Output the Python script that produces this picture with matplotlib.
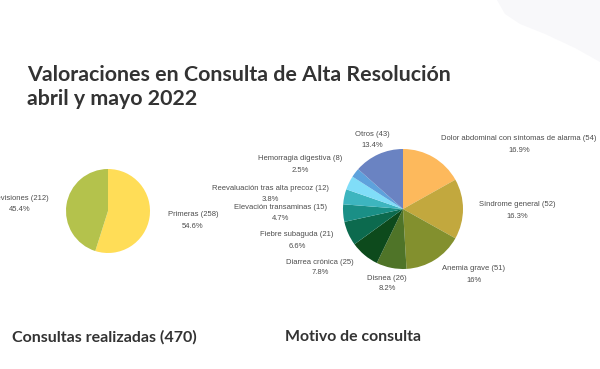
import matplotlib
matplotlib.use("Agg")
import matplotlib.pyplot as plt
from matplotlib.patches import Polygon

# Consultas realizadas
tipo_labels = ["Primeras", "Revisiones"]
tipo_values = [258, 212]
tipo_pcts = ["54.6%", "45.4%"]
tipo_colors = ["#FFDD57", "#B4C24C"]

# Motivo de consulta (one slice of 13 has no visible label)
motivo_labels = ["Dolor abdominal con síntomas de alarma", "Síndrome general", "Anemia grave",
                 "Disnea", "Diarrea crónica", "Fiebre subaguda", "Elevación transaminas",
                 "", "Reevaluación tras alta precoz", "Hemorragia digestiva", "Otros"]
motivo_values = [54, 52, 51, 26, 25, 21, 15, 13, 12, 8, 43]
motivo_pcts = ["16.9%", "16.3%", "16%", "8.2%", "7.8%", "6.6%", "4.7%", "", "3.8%", "2.5%", "13.4%"]
motivo_colors = ["#FDB95C", "#C2A83E", "#83902E", "#4F7428", "#0D4A1C", "#0C6A4E",
                 "#1A8F86", "#3DB5BF", "#80DDF8", "#5EA2DC", "#6A83C2"]

W, H = 600, 369
fig = plt.figure(figsize=(W / 100, H / 100), dpi=100)
fig.patch.set_facecolor("white")

def px(x, y):
    return x / W, 1 - y / H

# faint background shape top right
bg = Polygon([px(497, 0), px(505, 14), px(520, 24), px(545, 34), px(575, 48),
              px(600, 62), px(600, 0)], closed=True, transform=fig.transFigure,
             facecolor="#F8F8FA", edgecolor="none", zorder=0)
fig.patches.append(bg)

def pie_axes(cx, cy, r):
    ax = fig.add_axes([(cx - r) / W, 1 - (cy + r) / H, 2 * r / W, 2 * r / H])
    ax.set_axis_off()
    return ax

ax1 = pie_axes(108, 211, 42)
ax1.pie(tipo_values, colors=tipo_colors, startangle=90, counterclock=False,
        wedgeprops=dict(linewidth=0))
ax1.set_xlim(-1, 1)
ax1.set_ylim(-1, 1)

ax2 = pie_axes(403, 209, 60)
ax2.pie(motivo_values, colors=motivo_colors, startangle=90, counterclock=False,
        wedgeprops=dict(linewidth=0))
ax2.set_xlim(-1, 1)
ax2.set_ylim(-1, 1)

lab_font = dict(family="Liberation Sans", fontsize=5.5, color="#4d4d4d", ha="center", va="center")

# label anchor positions (pixels) for each slice
tipo_pos = [(193, 215), (20, 198)]
for name, v, p, (x, y) in zip(tipo_labels, tipo_values, tipo_pcts, tipo_pos):
    fig.text(*px(x, y), f"{name} ({v})", **lab_font)
    fig.text(*px(x, y + 11.5), p, **lab_font)

motivo_pos = [(519, 139), (517, 205), (474, 269), (387, 278), (320, 262), (297, 235),
              (281, 208), None, (270, 188), (300, 159), (372, 135)]
for name, v, p, pos in zip(motivo_labels, motivo_values, motivo_pcts, motivo_pos):
    if pos is None:
        continue
    x, y = pos
    fig.text(*px(x, y), f"{name} ({v})", **lab_font)
    fig.text(*px(x, y + 11), p, **lab_font)

title_font = dict(family="Lato", fontweight="bold", color="#333333")
fig.text(*px(27, 75), "Valoraciones en Consulta de Alta Resolución", fontsize=15.4,
         va="center", ha="left", **title_font)
fig.text(*px(27, 99), "abril y mayo 2022", fontsize=15.4, va="center", ha="left", **title_font)

fig.text(*px(12, 337), "Consultas realizadas (470)", fontsize=11.5, va="center", ha="left", **title_font)
fig.text(*px(285, 337), "Motivo de consulta", fontsize=11.4, va="center", ha="left", **title_font)

fig.savefig("out.png", dpi=100)
